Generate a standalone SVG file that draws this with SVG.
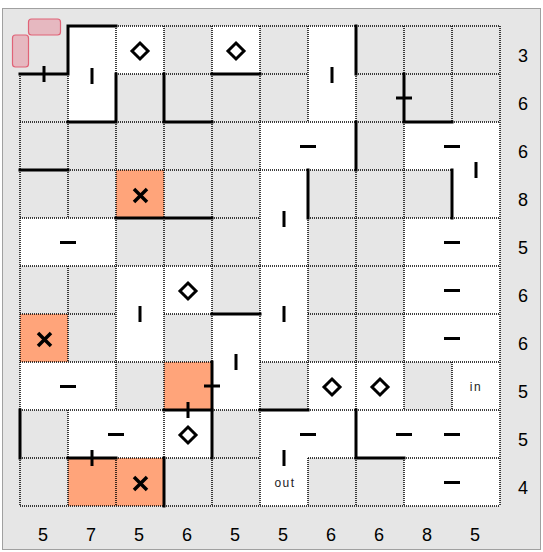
<svg xmlns="http://www.w3.org/2000/svg" width="543" height="552" viewBox="0 0 543 552">
<style>
.w{fill:#ffffff}
.o{fill:#ffa47a}
.dot{stroke:#000;stroke-width:1.5;stroke-dasharray:1 1;fill:none}
.bold{stroke:#000;stroke-width:3;fill:none;stroke-linecap:square}
.tk{stroke:#000;stroke-width:3;fill:none}
.dia{stroke:#000;stroke-width:3;fill:none;stroke-linejoin:miter}
.x{stroke:#000;stroke-width:3.5;fill:none}
.lbl{font-family:"Liberation Sans",Arial,sans-serif;font-size:18px;fill:#000;text-anchor:middle}
.sm{font-family:"Liberation Sans",Arial,sans-serif;font-size:12px;fill:#1a1a1a;text-anchor:middle;letter-spacing:1.5px;opacity:0.99}
.pk{fill:#e6b8c0;stroke:#e06377;stroke-width:1.2}
</style>
<defs>
<path id="dm" d="M0,-8 L8,0 L0,8 L-8,0 Z"/>
<path id="xx" d="M-6.5,-6.5 L6.5,6.5 M6.5,-6.5 L-6.5,6.5"/>
</defs>
<rect x="0" y="0" width="543" height="552" fill="#ffffff"/>
<rect x="2.5" y="8.5" width="538" height="541" fill="#e6e6e6" stroke="#a0a0a0" stroke-width="1"/>
<g id="cells">
<rect class="w" x="68" y="26" width="48" height="96"/>
<rect class="w" x="116" y="26" width="48" height="48"/>
<rect class="w" x="212" y="26" width="48" height="48"/>
<rect class="w" x="308" y="26" width="48" height="96"/>
<rect class="w" x="260" y="122" width="96" height="48"/>
<rect class="w" x="404" y="122" width="96" height="48"/>
<rect class="w" x="452" y="170" width="48" height="48"/>
<rect class="w" x="260" y="170" width="48" height="96"/>
<rect class="w" x="20" y="218" width="96" height="48"/>
<rect class="w" x="404" y="218" width="96" height="48"/>
<rect class="w" x="116" y="266" width="48" height="96"/>
<rect class="w" x="164" y="266" width="48" height="48"/>
<rect class="w" x="260" y="266" width="48" height="96"/>
<rect class="w" x="404" y="266" width="96" height="48"/>
<rect class="w" x="212" y="314" width="48" height="96"/>
<rect class="w" x="404" y="314" width="96" height="48"/>
<rect class="w" x="20" y="362" width="96" height="48"/>
<rect class="w" x="308" y="362" width="96" height="48"/>
<rect class="w" x="452" y="362" width="48" height="48"/>
<rect class="w" x="68" y="410" width="144" height="48"/>
<rect class="w" x="260" y="410" width="96" height="48"/>
<rect class="w" x="356" y="410" width="144" height="48"/>
<rect class="w" x="260" y="458" width="48" height="48"/>
<rect class="w" x="404" y="458" width="96" height="48"/>
<rect class="o" x="116" y="170" width="48" height="48"/>
<rect class="o" x="20" y="314" width="48" height="48"/>
<rect class="o" x="164" y="362" width="48" height="48"/>
<rect class="o" x="68" y="458" width="96" height="48"/>
</g>
<g id="grid">
<path class="dot" d="M68,26H500 M20,74H68 M116,74H308 M356,74H500 M20,122H500 M20,170H452 M20,218H260 M308,218H500 M20,266H500 M20,314H116 M164,314H260 M308,314H500 M20,362H212 M260,362H500 M20,410H500 M20,458H260 M308,458H500 M20,506H500"/>
<path class="dot" d="M20,74V506 M68,26V218 M68,266V362 M68,410V506 M116,26V410 M116,458V506 M164,26V506 M212,26V506 M260,26V506 M308,26V122 M308,170V410 M308,458V506 M356,26V506 M404,26V410 M404,458V506 M452,26V122 M452,170V218 M452,362V410 M500,26V506"/>
</g>
<g id="walls">
<path class="bold" d="M20,74H68V26H116"/>
<path class="bold" d="M116,74V122H68"/>
<path class="bold" d="M164,74V122H212"/>
<path class="bold" d="M212,74H260"/>
<path class="bold" d="M356,26V74"/>
<path class="bold" d="M356,122V170"/>
<path class="bold" d="M404,74V122H452"/>
<path class="bold" d="M20,170H68"/>
<path class="bold" d="M116,218H212"/>
<path class="bold" d="M308,170V218"/>
<path class="bold" d="M452,170V218"/>
<path class="bold" d="M212,314H260"/>
<path class="bold" d="M212,362V458"/>
<path class="bold" d="M164,410H212"/>
<path class="bold" d="M20,410V458"/>
<path class="bold" d="M68,458H116"/>
<path class="bold" d="M164,458V506"/>
<path class="bold" d="M260,410H308"/>
<path class="bold" d="M356,410V458H404"/>
</g>
<g id="ticks">
<path class="tk" d="M44,66V82 M396,98H412 M204,386H220 M188,402V418 M92,450V466"/>
<path class="tk" d="M92,68V84 M332,67V83 M476,162V178 M284,211V227 M140,306V322 M284,306V322 M236,354V370 M284,450V466"/>
<path class="tk" d="M300,146.5H316 M444,146.5H460 M60,242.5H76 M444,242.5H460 M444,290.5H460 M444,338.5H460 M60,386.5H76 M108,434.5H124 M300,434.5H316 M396,434.5H412 M444,434.5H460 M444,482.5H460"/>
</g>
<g id="marks">
<use href="#dm" class="dia" x="140" y="51"/>
<use href="#dm" class="dia" x="236" y="51"/>
<use href="#dm" class="dia" x="188" y="291"/>
<use href="#dm" class="dia" x="332" y="387"/>
<use href="#dm" class="dia" x="380" y="387"/>
<use href="#dm" class="dia" x="188" y="435"/>
<use href="#xx" class="x" x="140.5" y="195.5"/>
<use href="#xx" class="x" x="44.5" y="339.5"/>
<use href="#xx" class="x" x="140.5" y="483.5"/>
<text class="sm" x="476" y="391">in</text>
<text class="sm" x="285" y="487">out</text>
</g>
<g id="pink">
<rect class="pk" x="28.5" y="19" width="32" height="16" rx="3"/>
<rect class="pk" x="12.5" y="35" width="16" height="32" rx="3"/>
</g>
<g id="labels">
<text class="lbl" x="523" y="62">3</text>
<text class="lbl" x="523" y="110">6</text>
<text class="lbl" x="523" y="158">6</text>
<text class="lbl" x="523" y="206">8</text>
<text class="lbl" x="523" y="254">5</text>
<text class="lbl" x="523" y="302">6</text>
<text class="lbl" x="523" y="350">6</text>
<text class="lbl" x="523" y="398">5</text>
<text class="lbl" x="523" y="446">5</text>
<text class="lbl" x="523" y="494">4</text>
<text class="lbl" x="43" y="541">5</text>
<text class="lbl" x="91" y="541">7</text>
<text class="lbl" x="139" y="541">5</text>
<text class="lbl" x="187" y="541">6</text>
<text class="lbl" x="235" y="541">5</text>
<text class="lbl" x="283" y="541">5</text>
<text class="lbl" x="331" y="541">6</text>
<text class="lbl" x="379" y="541">6</text>
<text class="lbl" x="427" y="541">8</text>
<text class="lbl" x="475" y="541">5</text>
</g>
</svg>
